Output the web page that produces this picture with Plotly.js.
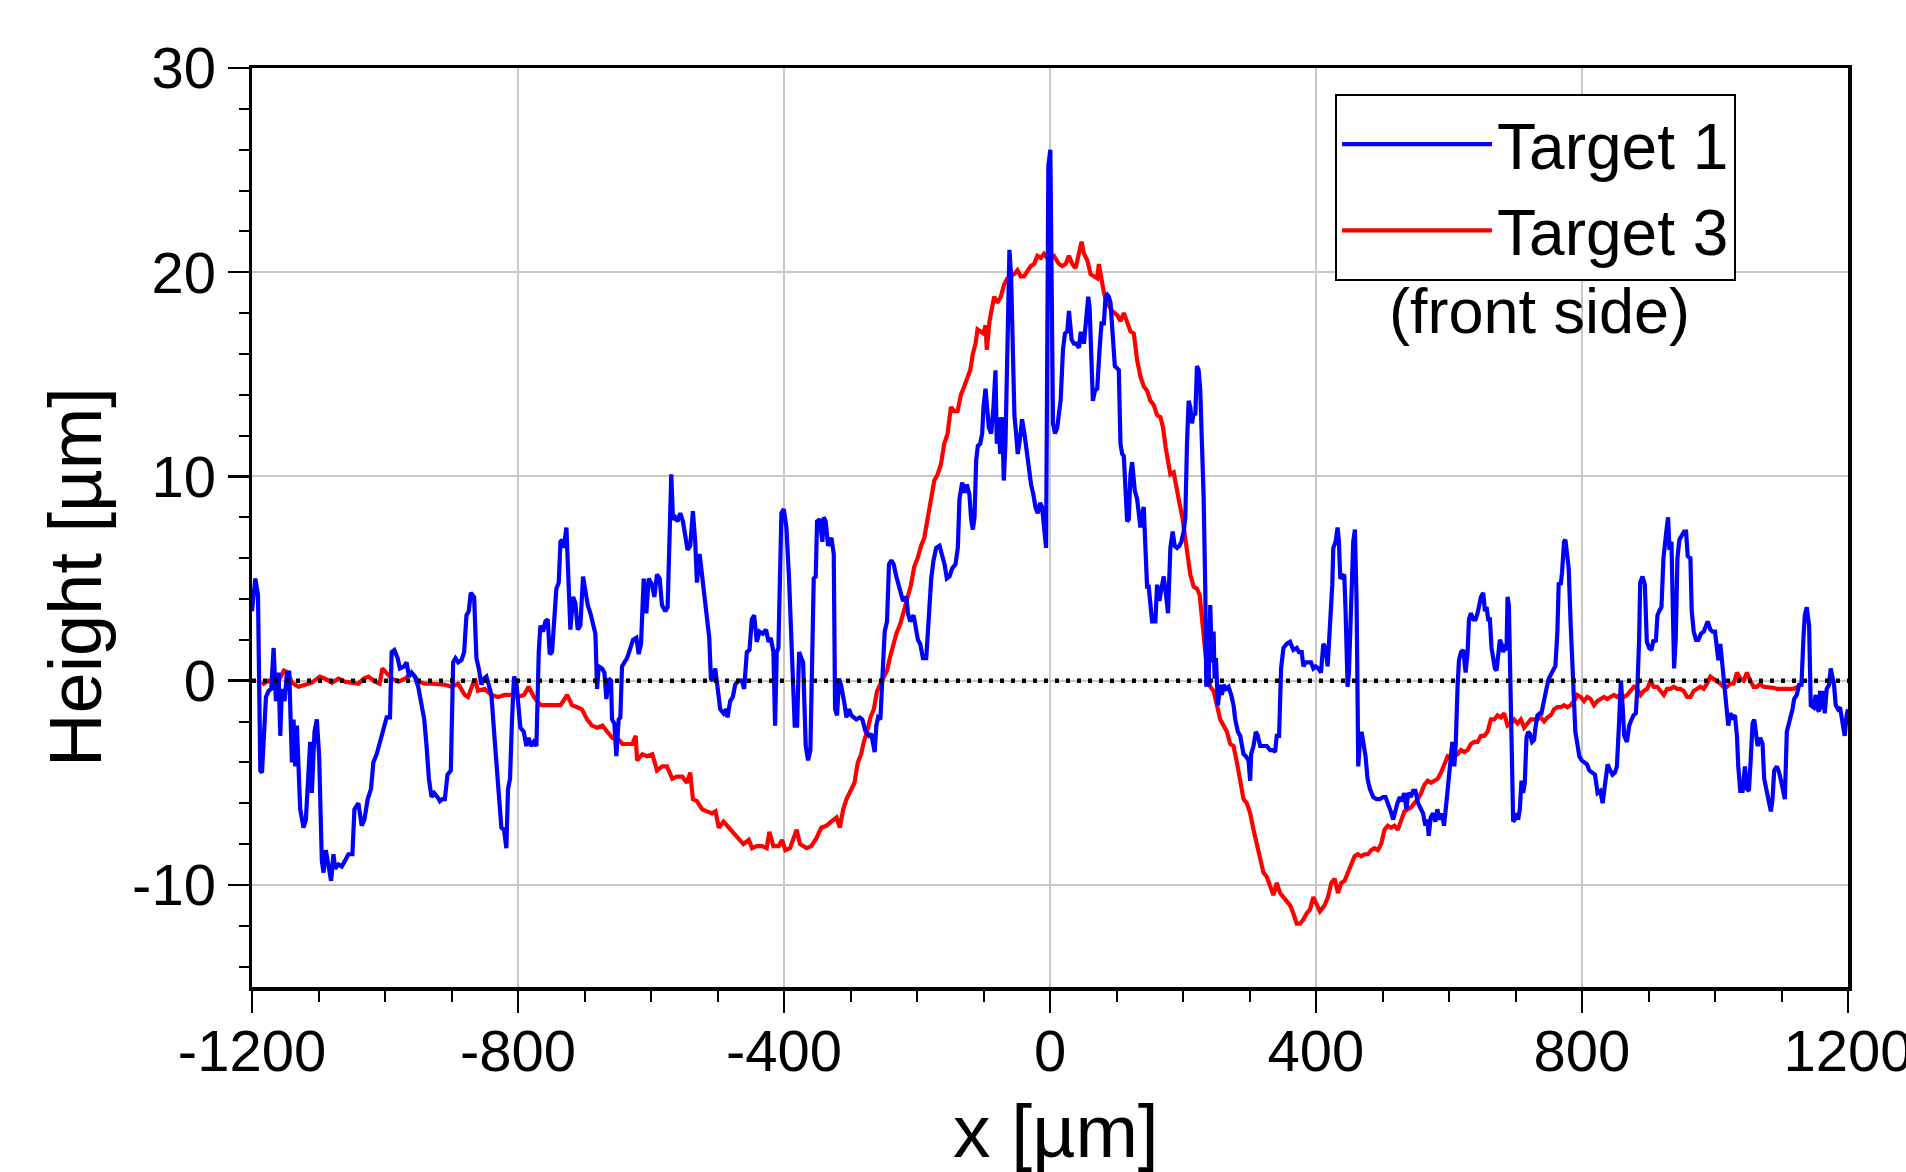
<!DOCTYPE html>
<html>
<head>
<meta charset="utf-8">
<script src="https://cdn.plot.ly/plotly-3.0.1.min.js"></script>
<style>html,body{margin:0;padding:0;background:#fff;}#chart{width:1906px;height:1172px;}</style>
</head>
<body>
<div id="chart"></div>
<script>
// ---- data (x in µm, height in µm) ----
const xBlue = [
-1200,-1197,-1195,-1191,-1187.5,-1185,-1181,-1179,-1175,-1171,-1167.5,-1164,-1160,-1157.5,-1155,-1151,-1147.5,-1144,-1140,-1137.5,-1135,-1132.5,-1127.5,-1122.5,-1119,-1115,-1112.5,-1110,-1106,-1102.5,-1099,-1095,-1092.5,-1089,-1085,-1081,-1077.5,-1075,-1070,-1065,-1060,-1055,-1049,-1046,-1040,-1035,-1031,-1026,-1021,-1017.5,-1012.5,-1007.5,-1002.5,-997.5,-992.5,-990,-986,-981,-977.5,-971,-967.5,-964,-960,-955,-950,-945,-941,-937.5,-934,-930,-926,-921,-917.5,-914,-910,-906,-901,-897.5,-894,-890,-885,-881,-877.5,-874,-871,-866,-862.5,-859,-855,-851,-847.5,-844,-840,-836,-832.5,-829,-825,-821,-817.5,-815,-812,-809,-806,
-802.4,-798.9,-796.4,-791.4,-787.4,-783.9,-780.3,-776.3,-772.3,-768.8,-766.3,-762.3,-758.8,-755.3,-752.3,-748.8,-745.3,-742.3,-738.7,-736.2,-733.7,-731.2,-727.2,-723.7,-721.2,-717.2,-713.7,-710.2,-706.2,-702.2,-698.7,-695.1,-691.1,-687.1,-683.6,-681.1,-678.6,-673.6,-670.1,-667.1,-663.6,-660.1,-658.6,-655.1,-652.1,-648.6,-646.1,-643.6,-640,-636,-632,-627,-622,-618.5,-615,-611,-607,-603.5,-598.5,-595,-591,-587,-583.5,-578.5,-575,-572,-569.5,-567,-563.5,-560,-556,-552,-548.5,-545,-541,-537,-533.5,-530.9,-526.9,-523.4,-519.9,-515.9,-512.4,-509.9,-506.9,-503.4,-499.9,-495.9,-490.9,-486.9,-484.9,-480.9,-476.9,-473.4,-468.4,-463.4,-459.9,-455.9,-451.9,-448.4,-444.9,-440.9,-436.9,-431.9,-426.9,-423.4,-419.9,-415.9,-413.4,-410.9,-408.4,
-403.9,-400.4,-396.4,-392.4,-388.9,-386.4,-383.9,-380.3,-377.3,-373.8,-371.3,-367.3,-363.8,-360.3,-357.3,-355.3,-352.3,-350.3,-346.3,-342.3,-340.3,-337.3,-333.7,-328.7,-325.2,-323.2,-320.2,-317.2,-313.7,-311.2,-308.7,-306.2,-302.2,-298.7,-295.2,-291.2,-286.2,-282.2,-277.2,-272.2,-268.7,-266.2,-263.7,-261.1,-258.6,-255.1,-251.1,-248.6,-245.1,-242.1,-238.6,-235.1,-231.1,-227.1,-223.6,-221.1,-216.1,-213.6,-210.1,-205.1,-202.1,-198.6,-195.1,-191.1,-186.1,-183.6,-181.1,-178.6,-175.1,-171.1,-166.1,-162.1,-158.6,-155.1,-151.1,-147.1,-142.1,-138.6,-136.1,-132.1,-128.6,-125.1,-121.1,-118.6,-116,-113.5,-111,-108.5,-105,-102,-100,-97,-95,-92,-88.5,-85,-82,-80,-77,-75,-72,-69.5,-67,-63.5,-61,-58.5,-56,-53.5,-51,-48.5,-45,-42,-38.5,-35,-31.9,-28.4,-24.9,-21.9,-18.4,-14.9,-11.9,-8.4,-5.9,
-2.5,0.5,2.5,4.5,7.5,11,13.5,16,19.5,22.5,26,28.5,32.5,36,39.5,43.5,46,48.5,51,54.5,57.5,59.5,62.5,64.5,67.5,71,74.5,77.5,81,83.5,86,88.5,91,94.5,97.5,101,103.5,106,108.5,111,113.5,116,118.5,121,123.5,127.5,131,133.5,136,138.5,141,143.5,146,148.5,151,153.5,156,158.5,161,164.5,167.5,171,174.5,177.5,181,184.5,187.5,191,194.5,197.5,201,203.5,206,208.5,211,213.5,216,218.5,221,223.5,226,228.5,231,233.5,235,238.5,241,243.5,246,247.5,249.5,252.5,256,258.5,261,264.5,268.5,272.5,276,278.5,282.5,286,288.5,291,294.5,298.5,301,302.5,306,309.5,312.5,316,321,326,331,336,338.5,341,344.5,347.5,351,356,361,366,371,374.5,378.5,381,384.5,
392.5,396,399.5,403.5,407.5,411,414.5,417.5,419.5,422.5,424.5,426,429.5,432.5,434.5,436.5,439.5,442.5,444.5,447.5,449.5,452.5,456,458.5,461,462.5,463.5,466,468.5,471,474.5,477.5,481,486,491,496,501,504.5,508.5,512.5,516,519.5,522.5,526,529.5,532.5,536,538.5,542.5,546,549.5,553.5,557.5,561,564.5,567.5,569.5,572.5,576,579.5,582.5,586,589.5,592.5,596,599,603,605,608,610,613,615,618,621.5,625,628,630,633,636.5,640,643,645,648,651.5,654,656.5,659,661.5,664,666.5,669,671.5,674,676.5,679,681.5,684,686.5,688,690,693,695,696.5,699,701.5,704,706.5,709,711.5,714,715,716.5,719,721.5,725,728,730,733,736.5,739,741.5,744,746.5,750,754,758,760,763,765,768,770,773,775,778,780,783,786,788,790,793,
796,799.5,803.5,807.5,811,816,819.5,823.5,827.5,831,833.5,836,838.5,842.5,846,849.5,852.5,856,858.5,861,863.5,867.5,871,874.5,877.5,881,883.5,886,887.5,891,894.5,897.5,901,904.5,907.5,911,913.5,916,919.5,922.5,924.5,927.5,929.5,931.5,934.5,936.5,938.5,941,943.5,946.5,949.5,953.5,956.5,959,963,965,968,971.5,975,979,983,986.5,989,993,996.5,1000,1003,1005,1008,1010,1013,1015,1018,1020,1023,1026.5,1030,1033,1035,1038,1041.5,1045,1048,1051,1054,1056.5,1059,1061.5,1064,1068,1071.5,1074,1078,1081.5,1084,1086.5,1089,1093,1096.5,1100,1103,1105,1108,1111.5,1114,1116.5,1119,1123,1126.5,1130,1133,1135,1138,1141.5,1144,1148,1151.5,1154,1156.5,1158,1160,1163,1165,1168,1171.5,1174,1176.5,1179,1181.5,1185,1188,1191.5,1195,1198,1200
];
const yBlue = [
3.4,4.4,5.0,4.2,-4.4,-4.5,-1.9,-0.8,-0.5,-0.4,1.6,-1.0,0.4,-2.7,-0.4,-1.0,0.4,0.4,-4.0,-1.9,-4.2,-2.2,-6.3,-7.2,-6.8,-4.5,-3.0,-5.5,-2.5,-1.9,-3.7,-8.8,-9.4,-8.3,-9.2,-9.8,-8.5,-9.2,-9.0,-9.1,-8.8,-8.5,-8.5,-6.3,-6.0,-7.1,-6.8,-5.8,-5.3,-4.0,-3.6,-3.0,-2.3,-1.8,-1.8,1.4,1.5,1.1,0.6,0.7,0.9,0.2,0.4,0.2,-0.3,-1.2,-1.9,-3.2,-4.8,-5.7,-5.5,-5.7,-5.9,-5.8,-5.8,-4.6,-4.4,0.9,1.1,0.9,1.0,1.4,3.2,3.4,4.3,4.1,1.1,0.6,-0.2,0.1,0.2,-0.2,-0.7,-2.5,-4.2,-5.3,-7.2,-7.3,-8.2,-5.3,-4.8,-1.9,0.2,
-0.1,-1.2,-2.3,-2.5,-3.2,-2.8,-3.2,-3.0,-3.2,1.4,2.7,2.4,2.9,3.0,1.3,1.4,3.2,4.5,4.8,6.8,6.9,6.5,7.5,3.9,2.5,4.1,3.8,2.5,2.7,5.1,4.5,3.7,3.3,2.7,2.3,-0.4,0.7,0.6,0.4,-0.9,0.1,0.0,-1.9,-2.1,-3.7,-1.9,-1.8,0.7,0.9,1.1,1.5,2.0,2.1,1.3,1.8,5.0,3.3,5.0,4.7,4.1,5.2,5.0,3.7,3.4,3.6,7.3,10.1,7.9,8.0,7.8,8.2,7.8,7.0,6.4,6.6,8.3,6.8,4.8,6.2,5.2,3.9,3.2,2.1,0.1,0.0,0.6,-0.2,-1.4,-1.6,-1.4,-1.8,-1.0,-0.8,-0.2,0.0,0.0,-0.4,1.4,1.5,3.0,3.2,1.9,2.4,2.3,2.5,1.9,2.1,1.4,-2.2,1.4,1.6,
8.2,8.4,7.5,5.0,2.4,0.4,-2.2,-2.2,1.4,1.1,0.9,-3.2,-3.9,-3.4,1.4,5.0,5.1,7.8,7.9,6.8,8.0,7.8,6.6,7.0,6.2,-1.4,-1.7,0.1,-0.3,-0.7,-1.2,-1.8,-1.4,-1.7,-1.8,-1.9,-1.8,-1.9,-2.5,-2.7,-2.6,-3.1,-3.5,-2.2,-1.8,-1.9,0.4,2.4,2.9,5.7,5.9,5.7,5.1,4.7,4.2,3.9,4.1,3.3,2.9,3.2,2.5,2.0,1.8,1.1,1.1,2.4,3.4,5.0,5.9,6.5,6.6,6.2,5.7,5.0,5.1,5.5,5.7,6.5,8.9,9.7,9.2,9.6,9.1,7.9,7.4,8.0,10.8,11.5,11.6,12.1,13.4,14.3,13.7,12.4,12.1,13.4,15.2,11.6,12.9,11.1,12.9,9.8,11.6,16.2,21.1,19.8,16.7,13.0,12.1,11.1,11.9,12.8,12.1,11.1,10.3,9.6,9.1,8.5,8.2,8.7,8.5,7.5,6.5,
25.2,26.0,19.3,12.6,12.1,12.4,13.1,13.7,16.2,17.0,17.1,18.1,16.7,16.5,16.5,16.3,17.0,17.0,16.5,18.0,18.8,18.3,15.2,13.7,14.2,14.3,16.2,17.5,17.5,18.8,18.9,18.8,18.5,16.7,15.4,15.3,15.2,11.6,11.1,11.0,9.6,7.8,7.9,10.1,10.7,9.3,8.9,8.3,7.5,8.2,8.5,6.5,4.6,4.6,3.9,2.9,2.9,2.9,4.7,3.9,4.5,5.1,4.2,3.3,6.5,7.3,6.6,6.5,6.6,6.8,7.3,8.0,11.6,13.7,13.4,12.6,13.1,13.0,15.4,15.2,14.2,12.1,9.0,4.5,-0.2,-0.2,3.7,0.9,2.4,0.1,1.1,-1.2,-0.2,-0.7,-0.2,-0.4,-0.3,-0.7,-1.2,-1.9,-2.5,-2.7,-3.1,-3.6,-3.7,-3.9,-4.9,-3.6,-3.2,-2.5,-2.7,-3.2,-3.2,-3.2,-3.4,-3.4,-3.5,-2.7,-2.7,0.6,1.6,1.8,1.9,1.5,1.6,1.4,1.4,0.7,0.9,
0.9,0.6,0.7,0.6,0.4,1.8,1.6,0.7,1.8,4.1,4.7,6.5,6.8,7.5,6.8,5.0,5.1,5.2,3.4,-0.3,0.4,2.9,6.8,7.4,3.9,-0.7,-4.2,-3.0,-2.5,-3.0,-3.7,-4.8,-5.3,-5.7,-5.8,-5.8,-5.7,-5.7,-6.0,-6.4,-6.8,-6.3,-6.0,-5.7,-5.9,-5.5,-6.3,-5.5,-5.7,-5.4,-5.4,-6.0,-6.3,-6.5,-7.1,-6.8,-7.6,-6.7,-6.5,-6.9,-6.3,-6.8,-6.5,-7.1,-6.0,-5.1,-3.7,-3.0,-4.2,-3.2,-0.2,1.0,1.4,1.5,0.4,1.4,3.0,3.3,3.0,3.0,3.3,3.7,4.1,4.3,3.4,3.6,3.0,3.0,1.6,1.1,0.6,0.5,1.4,2.0,1.8,1.4,1.6,1.5,4.1,3.7,-1.2,-5.5,-6.9,-6.8,-6.5,-6.8,-6.3,-4.9,-5.5,-5.0,-3.8,-2.8,-2.5,-2.6,-3.0,-2.9,-2.3,-1.7,-1.6,-1.6,-1.2,-0.7,-0.4,0.1,0.4,0.6,0.7,2.4,4.8,4.7,5.3,6.8,6.9,5.7,5.5,2.7,0.4,-1.0,-2.5,-3.1,
-3.7,-3.9,-4.0,-4.1,-4.4,-4.5,-4.6,-5.5,-5.4,-6.0,-5.3,-4.4,-4.1,-4.4,-4.6,-4.5,-4.2,-1.9,0.0,-1.2,-2.7,-3.0,-2.2,-1.9,-1.7,-1.6,-0.2,2.1,4.8,5.1,4.7,1.9,1.6,1.5,2.0,1.9,3.2,3.4,3.6,6.0,6.8,7.5,8.0,6.4,6.8,4.5,0.6,2.1,6.0,6.9,7.1,7.3,7.3,6.1,6.0,3.4,2.4,2.0,2.0,2.3,2.4,2.8,2.9,2.5,2.4,2.4,1.6,1.0,1.8,1.1,0.1,-0.4,-1.7,-2.2,-1.6,-1.8,-1.7,-2.7,-4.2,-5.4,-5.4,-4.2,-5.3,-5.4,-3.7,-2.1,-1.9,-2.7,-3.2,-2.8,-3.1,-4.8,-5.4,-5.8,-6.4,-5.8,-4.4,-4.2,-4.5,-5.0,-5.4,-5.8,-2.5,-2.1,-1.7,-1.4,-0.9,-0.7,-0.2,-0.2,2.1,3.2,3.6,2.7,-1.2,-1.3,-0.7,-1.4,-1.5,-0.5,-1.4,-0.5,-1.6,-0.4,-0.2,0.6,0.2,-0.2,-1.2,-1.4,-1.3,-2.1,-2.7,-1.7,-1.4
];

const xRed = [
-1185,-1175,-1167,-1160,-1152,-1146,-1140,-1130,-1120,-1110,-1098,-1090,-1080,-1070,-1060,-1050,-1040,-1032,-1025,-1015,-1008,-1004,-997,-990,-980,-970,-960,-955,-950,-940,-930,-920,-910,-900,-890,-880,-875,-865,-860,-850,-840,-830,-820,-810,
-801,-791,-784,-776,-766,-756,-746,-736,-726,-719,-711,-704,-696,-689,-681,-673,-666,-658,-651,-643,-636,-628,-623,-621,-613,-606,-598,-591,-583,-576,-568,-561,-553,-546,-541,-537,-531,-523,-516,-508,-503,-498,-491,-483,-476,-468,-461,-453,-448,-441,-433,-426,-422,-416,-408,-403,-398,-391,
-381,-376,-366,-359,-351,-344,-336,-329,-321,-316,-311,-306,-299,-294,-289,-284,-280,-275,-270,-265,-260,-255,-250,-245,-241,-236,-231,-225,-219,-214,-209,-204,-199,-194,-189,-184,-179,-174,-169,-164,-159,-154,-149,-144,-139,-134,-129,-124,-120,-116,-112,-109,-104,-100,-97,-95,-91,-87,-84,-79,-74,-69,-64,-59,-54,-49,-44,-39,-34,-29,-24,-19,-14,-9,-4,1,6,
13.5,18.5,23.5,28.5,33.5,38.5,43.5,47.5,51,56,61,66,71,73.5,77.5,81,86,93.5,101,106,111,116,121,126,131,136,141,146,151,156,161,166,170,174,178,181,186,190,194,199,203,206,211,216,221,225,228,231,236,241,246,251,256,261,266,271,276,281,286,291,296,301,306,311,316,321,326,331,336,341,346,351,356,361,366,371,376,381,386,391,396,401,406,
413,418,423,428,433,438,443,448,453,458,463,468,473,478,483,488,493,498,503,508,513,518,523,528,533,538,543,548,553,558,563,568,573,578,583,588,593,598,603,608,613,618,623,628,633,638,643,648,653,658,663,668,673,678,683,688,693,698,703,708,713,718,723,728,733,738,743,748,753,758,763,768,773,778,783,788,793,798,803,
808,813,818,823,828,833,838,843,848,853,858,863,868,873,878,883,888,893,898,903,908,913,918,923,928,933,938,943,948,953,958,963,968,973,978,983,988,993,998,1003,1008,1013,1018,1023,1028,1033,1038,1043,1048,1053,1058,1063,1068,1073,1078,1083,1088,1093,1098,1103,1108,1113,1118,1124
];
const yRed = [
-0.2,0.0,-0.1,0.0,0.5,0.4,-0.1,-0.3,-0.2,-0.1,0.2,0.1,-0.1,0.1,-0.05,-0.1,-0.15,0.1,0.2,-0.05,-0.15,0.6,0.35,0.1,-0.05,0.1,0.35,0.2,-0.05,-0.15,-0.15,-0.15,-0.2,-0.3,-0.15,-0.7,-0.8,0.1,-0.5,-0.4,-0.7,-0.8,-0.7,-0.7,
-0.8,-0.7,-0.3,-0.8,-1.2,-1.2,-1.2,-1.2,-0.7,-1.2,-1.3,-1.4,-1.9,-2.2,-2.3,-2.2,-2.5,-2.8,-2.8,-3.1,-3.1,-3.1,-2.7,-3.9,-3.6,-3.7,-3.6,-4.4,-4.2,-4.2,-4.8,-4.7,-4.7,-5.0,-4.5,-5.8,-5.9,-6.3,-6.4,-6.5,-6.4,-7.2,-6.9,-7.2,-7.4,-7.7,-8.0,-7.8,-8.2,-8.1,-8.1,-8.2,-7.4,-8.1,-8.1,-7.8,-8.3,-8.2,
-7.3,-8.0,-8.2,-8.1,-7.7,-7.2,-7.1,-6.9,-6.7,-7.2,-6.3,-5.8,-5.3,-5.0,-4.0,-3.6,-3.0,-2.5,-1.8,-1.4,-0.5,-0.2,0.1,0.5,1.1,1.8,2.3,2.8,3.6,4.1,4.7,5.6,6.0,6.6,7.0,8.0,8.9,9.8,10.1,10.6,11.6,12.1,13.4,13.2,13.2,14.0,14.4,14.8,15.2,16.0,16.5,17.2,17.1,17.0,17.4,16.2,17.6,18.4,18.8,18.5,18.8,19.4,19.7,19.8,19.9,20.1,19.8,19.8,20.1,20.3,20.4,20.8,20.7,20.9,20.7,20.8,20.8,
20.4,20.3,20.4,20.8,20.4,20.2,20.9,21.5,20.9,20.6,19.9,19.8,19.7,20.4,19.7,19.0,18.5,18.1,17.9,17.6,18.0,17.5,17.1,17.0,15.7,14.9,14.4,14.2,13.7,13.5,13.0,12.9,12.4,11.4,10.6,10.1,10.2,9.6,8.8,8.0,7.0,6.2,5.2,4.6,4.5,4.2,3.2,1.9,0.6,-0.3,-0.5,-1.2,-1.9,-2.2,-2.5,-3.1,-3.2,-4.0,-5.0,-5.8,-6.0,-6.5,-7.3,-8.0,-8.8,-9.4,-9.6,-10.1,-10.5,-9.9,-10.4,-10.6,-10.8,-11.0,-11.4,-11.9,-11.9,-11.7,-11.4,-11.2,-10.6,-10.9,-11.3,
-11.0,-10.6,-9.9,-9.7,-10.4,-9.9,-9.8,-9.4,-9.1,-8.6,-8.5,-8.6,-8.5,-8.5,-8.3,-8.2,-8.3,-8.0,-7.3,-7.1,-7.2,-7.1,-7.3,-6.8,-6.4,-6.3,-6.2,-6.0,-5.8,-5.5,-5.1,-4.9,-5.0,-4.9,-4.8,-4.5,-4.1,-3.7,-3.8,-3.7,-3.6,-3.4,-3.5,-3.4,-3.1,-3.0,-3.0,-2.7,-2.7,-2.5,-1.9,-1.9,-1.7,-1.8,-1.6,-2.2,-2.1,-1.9,-2.1,-1.9,-2.3,-2.1,-1.9,-1.9,-1.9,-1.8,-2.0,-1.8,-1.7,-1.4,-1.3,-1.3,-1.2,-1.3,-1.2,-1.0,-0.7,-0.8,-1.0,
-0.8,-0.9,-1.2,-1.0,-0.9,-0.8,-0.9,-0.8,-0.7,-0.8,-0.7,-0.8,-0.7,-0.5,-0.3,-0.4,-0.7,-0.5,-0.4,0.0,-0.3,-0.3,-0.5,-0.7,-0.4,-0.4,-0.3,-0.4,-0.4,-0.5,-0.8,-0.8,-0.5,-0.4,-0.3,-0.4,-0.15,0.2,0.1,0.0,-0.15,-0.3,-0.3,-0.15,-0.15,0.4,0.1,0.0,0.4,0.0,-0.3,-0.3,-0.15,-0.3,-0.3,-0.3,-0.35,-0.4,-0.4,-0.4,-0.35,-0.4,-0.4,-0.3
];

const baselineX = [-1200, 1200];
const baselineY = [0, 0];

const xTickVals = [-1200, -800, -400, 0, 400, 800, 1200];
const xTickText = ["-1200", "-800", "-400", "0", "400", "800", "1200"];
const yTickVals = [-10, 0, 10, 20, 30];
const yTickText = ["-10", "0", "10", "20", "30"];
const seriesNames = ["Target 1", "Target 3"];
const noteText = "(front side)";
const xTitle = "x [µm]";
const yTitle = "Height [µm]";

const FONT = "Liberation Sans, Arial, Helvetica, sans-serif";

const traces = [
  {x: xRed, y: yRed, type: "scatter", mode: "lines", name: seriesNames[1],
   line: {color: "#ff0000", width: 4.2}, legendrank: 2},
  {x: xBlue, y: yBlue, type: "scatter", mode: "lines", name: seriesNames[0],
   line: {color: "#0000ff", width: 4.2}, legendrank: 1},
  {x: baselineX, y: baselineY, type: "scatter", mode: "lines", showlegend: false,
   line: {color: "#000000", width: 4.5, dash: "4px,7px"}, hoverinfo: "skip"}
];

const layout = {
  width: 1906, height: 1172,
  margin: {l: 252, r: 58, t: 68, b: 185},
  paper_bgcolor: "#ffffff", plot_bgcolor: "#ffffff",
  font: {family: FONT, color: "#000000"},
  showlegend: true,
  legend: {
    x: 0.6786, y: 0.9717, xanchor: "left", yanchor: "top",
    bgcolor: "#ffffff", bordercolor: "#000000", borderwidth: 2,
    font: {family: FONT, size: 64, color: "#000000"},
    itemwidth: 150, tracegroupgap: 0
  },
  xaxis: {
    range: [-1200, 1200], tickmode: "array", tickvals: xTickVals, ticktext: xTickText,
    ticks: "outside", ticklen: 22, tickwidth: 2.5, tickcolor: "#000000",
    ticklabelstandoff: -11, ticklabeloverflow: "allow",
    showline: true, linecolor: "#000000", linewidth: 3.5, mirror: true,
    showgrid: true, gridcolor: "#c8c8c8", gridwidth: 2, zeroline: false,
    tickfont: {family: FONT, size: 58, color: "#000000"},
    minor: {dtick: 100, tick0: 0, ticks: "outside", ticklen: 11, tickwidth: 2, tickcolor: "#000000", showgrid: false}
  },
  yaxis: {
    range: [-15, 30], tickmode: "array", tickvals: yTickVals, ticktext: yTickText,
    ticks: "outside", ticklen: 21, tickwidth: 2.5, tickcolor: "#000000",
    showline: true, linecolor: "#000000", linewidth: 3.5, mirror: true,
    showgrid: true, gridcolor: "#c8c8c8", gridwidth: 2, zeroline: false,
    tickfont: {family: FONT, size: 58, color: "#000000"},
    minor: {dtick: 2, tick0: 0, ticks: "outside", ticklen: 10, tickwidth: 2, tickcolor: "#000000", showgrid: false}
  },
  annotations: [
    {text: noteText, xref: "paper", yref: "paper", x: 0.807, y: 0.7356,
     xanchor: "center", yanchor: "middle", showarrow: false,
     font: {family: FONT, size: 63, color: "#000000"}},
    {text: xTitle, xref: "paper", yref: "paper", x: 0.504, y: -0.157,
     xanchor: "center", yanchor: "middle", showarrow: false,
     font: {family: FONT, size: 75, color: "#000000"}},
    {text: yTitle, xref: "paper", yref: "paper", x: -0.111, y: 0.446,
     xanchor: "center", yanchor: "middle", showarrow: false, textangle: -90,
     font: {family: FONT, size: 74, color: "#000000"}}
  ]
};

Plotly.newPlot("chart", traces, layout, {staticPlot: true, displayModeBar: false});
</script>
</body>
</html>
